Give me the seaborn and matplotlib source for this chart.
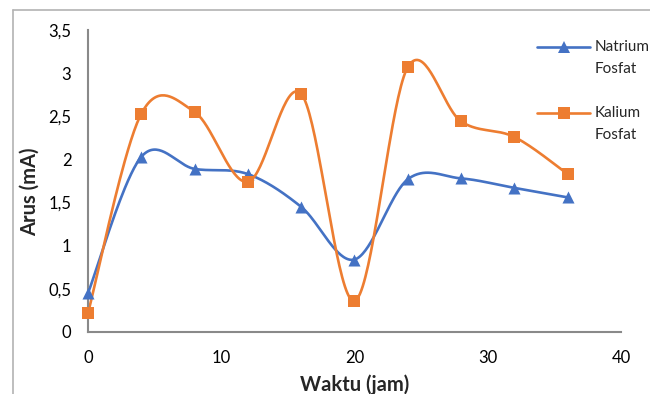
import numpy as np
import pandas as pd
import matplotlib
matplotlib.use("Agg")
import matplotlib.pyplot as plt
from matplotlib.lines import Line2D
from matplotlib.legend_handler import HandlerLine2D
from matplotlib.ticker import FuncFormatter, MultipleLocator
import seaborn as sns

# Measurement data
waktu = [0, 4, 8, 12, 16, 20, 24, 28, 32, 36]
natrium_fosfat = [0.45, 2.03, 1.89, 1.83, 1.45, 0.84, 1.77, 1.78, 1.67, 1.56]
kalium_fosfat = [0.22, 2.53, 2.55, 1.74, 2.76, 0.36, 3.07, 2.44, 2.26, 1.83]
series_names = ["Natrium\nFosfat", "Kalium\nFosfat"]
colors = ["#4472C4", "#ED7D31"]
markers = ["^", "s"]


def smooth_curve(x, y, n=40):
    """Cardinal (Catmull-Rom style) Bezier smoothing through every point."""
    x = np.asarray(x, float)
    y = np.asarray(y, float)
    px = np.concatenate([[x[0]], x, [x[-1]]])
    py = np.concatenate([[y[0]], y, [y[-1]]])
    xs, ys = [], []
    t = np.linspace(0, 1, n)
    for i in range(len(x) - 1):
        p0 = np.array([px[i + 1], py[i + 1]])
        p3 = np.array([px[i + 2], py[i + 2]])
        c1 = p0 + (np.array([px[i + 2], py[i + 2]]) - np.array([px[i], py[i]])) / 6
        c2 = p3 - (np.array([px[i + 3], py[i + 3]]) - np.array([px[i + 1], py[i + 1]])) / 6
        b = ((1 - t) ** 3)[:, None] * p0 + (3 * (1 - t) ** 2 * t)[:, None] * c1 \
            + (3 * (1 - t) * t ** 2)[:, None] * c2 + (t ** 3)[:, None] * p3
        xs.append(b[:, 0] if i == 0 else b[1:, 0])
        ys.append(b[:, 1] if i == 0 else b[1:, 1])
    return np.concatenate(xs), np.concatenate(ys)


class FirstLineHandler(HandlerLine2D):
    """Legend line handle raised to sit beside the first line of a two-line label."""

    def __init__(self, shift, **kw):
        super().__init__(**kw)
        self.shift = shift

    def create_artists(self, legend, orig_handle, xdescent, ydescent, width,
                       height, fontsize, trans):
        return super().create_artists(legend, orig_handle, xdescent,
                                      ydescent - 2 * self.shift, width, height,
                                      fontsize, trans)


sns.set_theme(style="white")
plt.rcParams["font.family"] = ["Lato", "DejaVu Sans"]

fig = plt.figure(figsize=(6.5, 3.94), dpi=100)
ax = fig.add_axes([88 / 650, 1 - 332 / 394, (621 - 88) / 650, (332 - 30) / 394])

for vals, name, col, mk in zip([natrium_fosfat, kalium_fosfat], series_names, colors, markers):
    sx, sy = smooth_curve(waktu, vals)
    curve = pd.DataFrame({"Waktu": sx, "Arus": sy})
    pts = pd.DataFrame({"Waktu": waktu, "Arus": vals})
    sns.lineplot(data=curve, x="Waktu", y="Arus", ax=ax, color=col, lw=1.9,
                 sort=False, estimator=None, clip_on=False)
    sns.scatterplot(data=pts, x="Waktu", y="Arus", ax=ax, color=col, marker=mk,
                    s=75 if mk == "^" else 65, linewidth=0, zorder=5, clip_on=False)

ax.set_xlim(0, 40)
ax.set_ylim(0, 3.5)
ax.xaxis.set_major_locator(MultipleLocator(10))
ax.yaxis.set_major_locator(MultipleLocator(0.5))
ax.yaxis.set_major_formatter(FuncFormatter(lambda v, p: f"{v:g}".replace(".", ",")))
ax.tick_params(axis="both", length=0, labelsize=12, colors="#000000")
ax.tick_params(axis="x", pad=13)
ax.tick_params(axis="y", pad=12)

for side in ["top", "right"]:
    ax.spines[side].set_visible(False)
for side in ["left", "bottom"]:
    ax.spines[side].set_color("#898989")
    ax.spines[side].set_linewidth(1.5)

ax.set_xlabel("Waktu (jam)", fontsize=14.5, fontweight="bold", va="center")
ax.set_ylabel("Arus (mA)", fontsize=14.5, fontweight="bold", va="center")
ax.xaxis.set_label_coords(0.5, (332 - 385) / 302)
ax.yaxis.set_label_coords((30 - 88) / 533, (332 - 192) / 302)

handles = [Line2D([0], [0], color=c, lw=1.9, marker=m, markersize=8.5, markeredgewidth=0)
           for c, m in zip(colors, markers)]
leg = fig.legend(handles, series_names, loc="upper left",
                 bbox_to_anchor=(537 / 650, 1 - 40 / 394), frameon=False,
                 fontsize=11, handlelength=3.5, handletextpad=0.25,
                 labelspacing=2.0, borderpad=0, borderaxespad=0,
                 handler_map={h: FirstLineHandler(shift=8.0) for h in handles})
for txt in leg.get_texts():
    txt.set_linespacing(1.7)

# Outer frame lines
fig.add_artist(Line2D([13 / 650, 1], [1 - 10 / 394, 1 - 10 / 394], color="#b3b3b3", lw=1.2))
fig.add_artist(Line2D([13 / 650, 13 / 650], [0, 1 - 10 / 394], color="#b3b3b3", lw=1.2))

fig.savefig("out.png", dpi=100)
